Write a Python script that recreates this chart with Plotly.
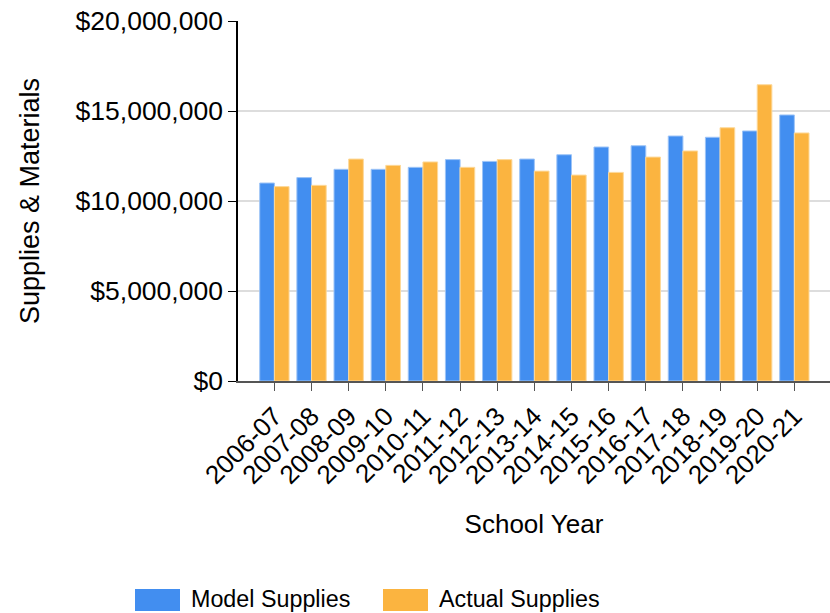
import plotly.graph_objects as go

years = ["2006-07", "2007-08", "2008-09", "2009-10", "2010-11", "2011-12", "2012-13",
         "2013-14", "2014-15", "2015-16", "2016-17", "2017-18", "2018-19", "2019-20", "2020-21"]
model_supplies = [11.0e6, 11.3e6, 11.76e6, 11.76e6, 11.87e6, 12.3e6, 12.2e6,
                  12.33e6, 12.57e6, 13.0e6, 13.07e6, 13.61e6, 13.54e6, 13.89e6, 14.78e6]
actual_supplies = [10.8e6, 10.87e6, 12.33e6, 11.98e6, 12.17e6, 11.87e6, 12.3e6,
                   11.66e6, 11.44e6, 11.59e6, 12.44e6, 12.78e6, 14.07e6, 16.46e6, 13.78e6]
y_ticks = [0, 5e6, 10e6, 15e6, 20e6]
y_tick_labels = ["$0", "$5,000,000", "$10,000,000", "$15,000,000", "$20,000,000"]

BLUE = "#428EF0"
ORANGE = "#FBB440"
FONT = "Liberation Sans, Arial, sans-serif"

# plot box in page pixels (body margin removed below)
L, R, T, B = 238, 830, 21, 381
W, H = 830, 613

fig = go.Figure()
fig.add_trace(go.Bar(x=years, y=model_supplies, name="Model Supplies",
                     marker=dict(color=BLUE, line=dict(color="#9DC4F7", width=1)),
                     showlegend=False))
fig.add_trace(go.Bar(x=years, y=actual_supplies, name="Actual Supplies",
                     marker=dict(color=ORANGE, line=dict(color="#FDD99A", width=1)),
                     showlegend=False))

fig.update_layout(
    width=W, height=H,
    margin=dict(l=L, r=W - R, t=T, b=H - B, autoexpand=False),
    paper_bgcolor="white", plot_bgcolor="white",
    barmode="group", bargap=0.21, bargroupgap=0,
    font=dict(family=FONT, size=26, color="black"),
)
fig.update_xaxes(
    type="category", range=[-0.98, 14.96], automargin=False,
    tickangle=-45, ticks="outside", ticklen=8, tickcolor="#555555",
    showline=True, linecolor="#555555", linewidth=1.5,
    showgrid=False, ticklabeloverflow="allow",
    tickfont=dict(size=26),
    title=dict(text="School Year", font=dict(size=26), standoff=26),
)
fig.update_yaxes(
    range=[0, 20e6], tickvals=y_ticks, ticktext=y_tick_labels, automargin=False,
    ticks="outside", ticklen=8, tickcolor="black",
    showline=True, linecolor="black", linewidth=1.5,
    showgrid=True, gridcolor="#DDDDDD", gridwidth=2,
    zeroline=False, ticklabeloverflow="allow",
    tickfont=dict(size=26.5),
    title=dict(text="Supplies & Materials", font=dict(size=27), standoff=28),
)

# legend drawn at bottom
legend_items = [("Model Supplies", BLUE, 135), ("Actual Supplies", ORANGE, 383)]
for label, color, x0 in legend_items:
    fig.add_shape(type="rect", xref="paper", yref="paper",
                  x0=(x0 - L) / (R - L), x1=(x0 + 45 - L) / (R - L),
                  y0=(B - 611) / (B - T), y1=(B - 589) / (B - T),
                  fillcolor=color, line=dict(width=0))
    fig.add_annotation(text=label, xref="paper", yref="paper",
                       x=(x0 + 54 - L) / (R - L), y=(B - 599) / (B - T),
                       xanchor="left", yanchor="middle", showarrow=False,
                       font=dict(size=23.3, color="black"))

fig.write_html("out.html", config={"displayModeBar": False},
               post_script="document.body.style.margin='0';")
